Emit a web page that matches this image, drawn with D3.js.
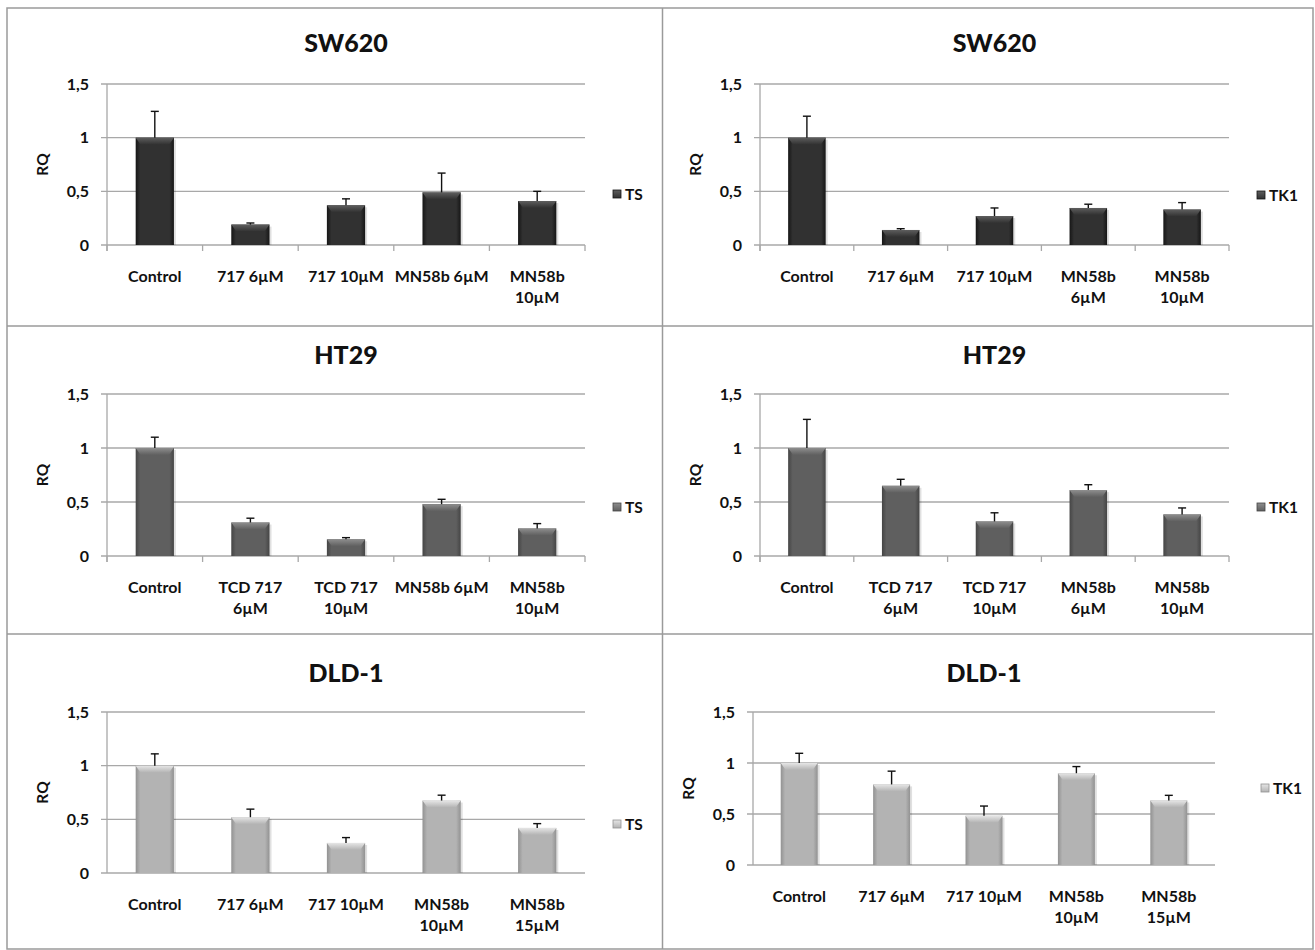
<!DOCTYPE html>
<html>
<head>
<meta charset="utf-8">
<script src="https://cdn.jsdelivr.net/npm/d3@7"></script>
<style>
  html, body { margin: 0; padding: 0; background: #fff; }
  svg { display: block; }
  text { font-family: Lato, "Open Sans", sans-serif; font-weight: bold; fill: #111; }
  text.title { font-weight: 900; }
</style>
</head>
<body>
<svg id="chart" width="1315" height="950"></svg>
<script>
// ---------- DATA ----------
const yTickValues = [0, 0.5, 1, 1.5];
const yTickLabels = ["0", "0,5", "1", "1,5"];

const catsSW620TS  = ["Control", "717 6µM", "717 10µM", "MN58b 6µM", "MN58b\n10µM"];
const catsSW620TK1 = ["Control", "717 6µM", "717 10µM", "MN58b\n6µM", "MN58b\n10µM"];
const catsHT29     = ["Control", "TCD 717\n6µM", "TCD 717\n10µM", "MN58b 6µM", "MN58b\n10µM"];
const catsHT29TK1  = ["Control", "TCD 717\n6µM", "TCD 717\n10µM", "MN58b\n6µM", "MN58b\n10µM"];
const catsDLD1     = ["Control", "717 6µM", "717 10µM", "MN58b\n10µM", "MN58b\n15µM"];

const sw620TS     = [1.00, 0.19, 0.37, 0.49, 0.41];
const sw620TSErr  = [0.245, 0.015, 0.06, 0.18, 0.09];
const sw620TK1    = [1.00, 0.14, 0.27, 0.345, 0.33];
const sw620TK1Err = [0.20, 0.012, 0.075, 0.035, 0.065];
const ht29TS      = [1.00, 0.31, 0.155, 0.48, 0.255];
const ht29TSErr   = [0.10, 0.04, 0.015, 0.045, 0.045];
const ht29TK1     = [1.00, 0.65, 0.32, 0.61, 0.385];
const ht29TK1Err  = [0.265, 0.06, 0.08, 0.05, 0.06];
const dld1TS      = [1.00, 0.52, 0.28, 0.675, 0.42];
const dld1TSErr   = [0.11, 0.075, 0.05, 0.05, 0.04];
const dld1TK1     = [1.00, 0.79, 0.483, 0.90, 0.633];
const dld1TK1Err  = [0.095, 0.13, 0.095, 0.065, 0.05];

const titles = ["SW620", "SW620", "HT29", "HT29", "DLD-1", "DLD-1"];
const seriesNames = ["TS", "TK1", "TS", "TK1", "TS", "TK1"];

// ---------- LAYOUT ----------
const tones = {
  dark:  {edge: "#161616", mid: "#313131", top: "#5e5e5e"},
  mid:   {edge: "#454545", mid: "#5f5f5f", top: "#8e8e8e"},
  light: {edge: "#929292", mid: "#b3b3b3", top: "#e6e6e6"}
};

const panels = [
  {cats: catsSW620TS,  vals: sw620TS,  errs: sw620TSErr,  x0: 107, x1: 585,  y0: 245, y1: 84,  titleY: 43,  legX: 613,  legY: 194, tone: "dark",  xticks: true},
  {cats: catsSW620TK1, vals: sw620TK1, errs: sw620TK1Err, x0: 760, x1: 1229, y0: 245, y1: 84,  titleY: 43,  legX: 1257, legY: 195, tone: "dark",  xticks: true},
  {cats: catsHT29,     vals: ht29TS,   errs: ht29TSErr,   x0: 107, x1: 585,  y0: 556, y1: 394, titleY: 355, legX: 613,  legY: 507, tone: "mid",   xticks: true},
  {cats: catsHT29TK1,  vals: ht29TK1,  errs: ht29TK1Err,  x0: 760, x1: 1229, y0: 556, y1: 394, titleY: 355, legX: 1257, legY: 507, tone: "mid",   xticks: true},
  {cats: catsDLD1,     vals: dld1TS,   errs: dld1TSErr,   x0: 107, x1: 585,  y0: 873, y1: 712, titleY: 673, legX: 613,  legY: 824, tone: "light", xticks: false},
  {cats: catsDLD1,     vals: dld1TK1,  errs: dld1TK1Err,  x0: 753, x1: 1215, y0: 865, y1: 712, titleY: 673, legX: 1261, legY: 788, tone: "light", xticks: false}
];

const svg = d3.select("#chart");
const defs = svg.append("defs");

Object.entries(tones).forEach(([k, t]) => {
  const g = defs.append("linearGradient").attr("id", "g-" + k).attr("x1", "0").attr("x2", "1").attr("y1", "0").attr("y2", "0");
  g.append("stop").attr("offset", "0%").attr("stop-color", t.edge);
  g.append("stop").attr("offset", "12%").attr("stop-color", t.mid);
  g.append("stop").attr("offset", "88%").attr("stop-color", t.mid);
  g.append("stop").attr("offset", "100%").attr("stop-color", t.edge);
  const gt = defs.append("linearGradient").attr("id", "gt-" + k).attr("x1", "0").attr("x2", "0").attr("y1", "0").attr("y2", "1");
  gt.append("stop").attr("offset", "0%").attr("stop-color", t.top);
  gt.append("stop").attr("offset", "100%").attr("stop-color", t.mid);
});

// frame
const frame = svg.append("g").attr("fill", "none").attr("stroke", "#9a9a9a").attr("stroke-width", 1.5);
frame.append("rect").attr("x", 7).attr("y", 8).attr("width", 1306).attr("height", 941);
frame.append("line").attr("x1", 662.5).attr("x2", 662.5).attr("y1", 8).attr("y2", 949);
frame.append("line").attr("x1", 7).attr("x2", 1313).attr("y1", 326).attr("y2", 326);
frame.append("line").attr("x1", 7).attr("x2", 1313).attr("y1", 634).attr("y2", 634);

panels.forEach((p, pi) => {
  const g = svg.append("g");
  const idx = p.vals.map((_, i) => i);
  const x = d3.scaleBand().domain(idx).range([p.x0, p.x1]).paddingInner(0).paddingOuter(0);
  const y = d3.scaleLinear().domain([0, 1.5]).range([p.y0, p.y1]);

  // gridlines
  g.append("g").selectAll("line").data(yTickValues).join("line")
    .attr("x1", p.x0 - 6).attr("x2", p.x1)
    .attr("y1", d => y(d)).attr("y2", d => y(d))
    .attr("stroke", "#a8a8a8").attr("stroke-width", 1.3);

  // y axis line
  g.append("line").attr("x1", p.x0).attr("x2", p.x0).attr("y1", y(1.5)).attr("y2", y(0) + (p.xticks ? 6 : 0))
    .attr("stroke", "#a8a8a8").attr("stroke-width", 1.3);

  // x ticks
  if (p.xticks) {
    const bounds = idx.map(i => x(i)).concat([p.x1]);
    g.append("g").selectAll("line").data(bounds).join("line")
      .attr("x1", d => d).attr("x2", d => d).attr("y1", y(0)).attr("y2", y(0) + 6)
      .attr("stroke", "#a8a8a8").attr("stroke-width", 1.3);
  }

  // y tick labels
  g.append("g").selectAll("text").data(yTickValues).join("text")
    .attr("x", p.x0 - 18).attr("y", d => y(d)).attr("dy", "0.35em")
    .attr("text-anchor", "end").attr("font-size", 16)
    .text((d, i) => yTickLabels[i]);

  // RQ label
  const rqX = p.x0 - 64;
  const rqY = (y(0) + y(1.5)) / 2;
  g.append("text").attr("transform", `translate(${rqX},${rqY}) rotate(-90)`)
    .attr("text-anchor", "middle").attr("dy", "0.35em").attr("font-size", 15.5).text("RQ");

  // title
  g.append("text").attr("class", "title").attr("x", (p.x0 + p.x1) / 2).attr("y", p.titleY).attr("dy", "0.36em")
    .attr("text-anchor", "middle").attr("font-size", 25).text(titles[pi]);

  // bars
  const bw = x.bandwidth() * 0.4;
  const bars = g.append("g").selectAll("g").data(idx).join("g");
  bars.append("rect")
    .attr("x", i => x(i) + x.bandwidth() / 2 - bw / 2 + 2)
    .attr("y", i => y(p.vals[i]) + 2)
    .attr("width", bw).attr("height", i => y(0) - y(p.vals[i]) - 2)
    .attr("fill", "#000").attr("opacity", 0.12);
  bars.append("rect")
    .attr("x", i => x(i) + x.bandwidth() / 2 - bw / 2)
    .attr("y", i => y(p.vals[i]))
    .attr("width", bw).attr("height", i => y(0) - y(p.vals[i]))
    .attr("fill", `url(#g-${p.tone})`);
  bars.append("path")
    .attr("d", i => {
      const l = x(i) + x.bandwidth() / 2 - bw / 2, r = l + bw, t = y(p.vals[i]);
      const h = Math.min(7, (y(0) - t) / 2);
      return `M${l},${t}L${r},${t}L${r - 5},${t + h}L${l + 5},${t + h}Z`;
    })
    .attr("fill", `url(#gt-${p.tone})`);

  // error bars
  const eb = g.append("g").attr("stroke", "#111").attr("stroke-width", 1.4);
  eb.selectAll("line.v").data(idx).join("line").attr("class", "v")
    .attr("x1", i => x(i) + x.bandwidth() / 2).attr("x2", i => x(i) + x.bandwidth() / 2)
    .attr("y1", i => y(p.vals[i])).attr("y2", i => y(p.vals[i] + p.errs[i]));
  eb.selectAll("line.c").data(idx).join("line").attr("class", "c")
    .attr("x1", i => x(i) + x.bandwidth() / 2 - 4).attr("x2", i => x(i) + x.bandwidth() / 2 + 4)
    .attr("y1", i => y(p.vals[i] + p.errs[i])).attr("y2", i => y(p.vals[i] + p.errs[i]));

  // category labels
  const labels = g.append("g").selectAll("text").data(idx).join("text")
    .attr("x", i => x(i) + x.bandwidth() / 2)
    .attr("y", y(0) + 31)
    .attr("text-anchor", "middle").attr("font-size", 16);
  labels.each(function(i) {
    const lines = p.cats[i].split("\n");
    const t = d3.select(this);
    lines.forEach((ln, li) => {
      t.append("tspan").attr("x", x(i) + x.bandwidth() / 2).attr("dy", li === 0 ? "0.35em" : 21.5).text(ln);
    });
  });

  // legend
  g.append("rect").attr("x", p.legX).attr("y", p.legY - 4).attr("width", 8).attr("height", 8)
    .attr("fill", `url(#gt-${p.tone})`).attr("stroke", tones[p.tone].edge).attr("stroke-width", 0.8);
  g.append("text").attr("x", p.legX + 12).attr("y", p.legY).attr("dy", "0.36em")
    .attr("font-size", 15.5).text(seriesNames[pi]);
});
</script>
</body>
</html>
